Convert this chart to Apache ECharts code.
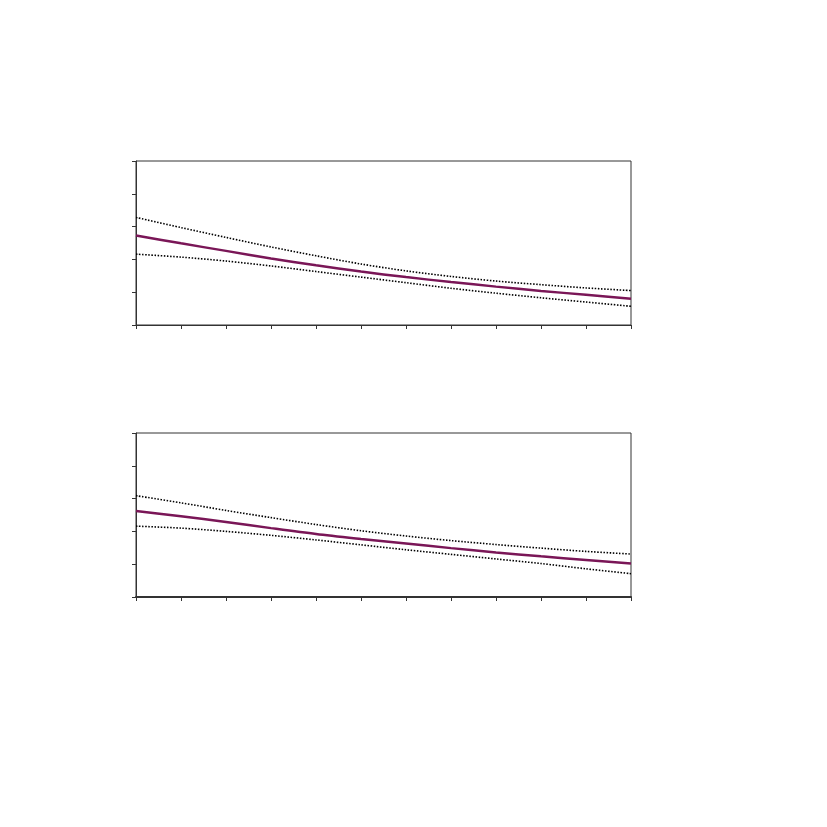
<!DOCTYPE html>
<html><head><meta charset="utf-8">
<script src="https://cdn.jsdelivr.net/npm/echarts@6/dist/echarts.min.js"></script>
<style>html,body{margin:0;padding:0;background:#fff}#c{width:827px;height:827px}</style>
</head><body><div id="c"></div>
<script>
const xs = [0,1,2,3,4,5,6,7,8,9,10,11];
const topMid   = [2.73,2.49,2.26,2.03,1.82,1.63,1.46,1.31,1.17,1.04,0.92,0.80];
const topUpper = [3.28,2.97,2.67,2.38,2.11,1.86,1.65,1.48,1.34,1.23,1.13,1.05];
const topLower = [2.16,2.07,1.95,1.80,1.63,1.46,1.29,1.12,0.97,0.83,0.70,0.57];
const botMid   = [2.62,2.46,2.29,2.10,1.92,1.77,1.63,1.49,1.36,1.24,1.13,1.02];
const botUpper = [3.09,2.87,2.64,2.42,2.21,2.02,1.86,1.72,1.60,1.49,1.39,1.31];
const botLower = [2.16,2.10,2.00,1.88,1.74,1.59,1.44,1.30,1.16,1.02,0.86,0.71];

const pair = (arr) => xs.map((x,i)=>[x,arr[i]]);
const axisColor = '#333';
function xAx(gi,w){return {type:'value',gridIndex:gi,min:0,max:11,interval:1,
  axisLine:{show:true,onZero:false,lineStyle:{color:axisColor,width:w}},
  axisTick:{show:true,inside:false,length:4,lineStyle:{color:axisColor}},
  axisLabel:{show:false},splitLine:{show:false}};}
function yAx(gi){return {type:'value',gridIndex:gi,min:0,max:5,interval:1,
  axisLine:{show:true,onZero:false,lineStyle:{color:axisColor,width:1}},
  axisTick:{show:true,inside:false,length:4,lineStyle:{color:axisColor}},
  axisLabel:{show:false},splitLine:{show:false}};}
function mid(gi,d){return {type:'line',xAxisIndex:gi,yAxisIndex:gi,data:pair(d),smooth:0.3,showSymbol:false,
  lineStyle:{color:'#7a1657',width:2.5},z:3};}
function dot(gi,d){return {type:'line',xAxisIndex:gi,yAxisIndex:gi,data:pair(d),smooth:0.3,showSymbol:false,
  lineStyle:{color:'#000',width:1.6,type:[1.5,1.6]},z:2};}
const chart = echarts.init(document.getElementById('c'));
chart.setOption({
  animation:false,
  grid:[
    {left:136,top:161,width:495,height:164,show:true,borderColor:axisColor,borderWidth:1,backgroundColor:'transparent'},
    {left:136,top:433,width:495,height:164,show:true,borderColor:axisColor,borderWidth:1,backgroundColor:'transparent'}
  ],
  xAxis:[xAx(0,1),xAx(1,2)],
  yAxis:[yAx(0),yAx(1)],
  series:[
    dot(0,topUpper),dot(0,topLower),mid(0,topMid),
    dot(1,botUpper),dot(1,botLower),mid(1,botMid)
  ]
});
</script></body></html>
